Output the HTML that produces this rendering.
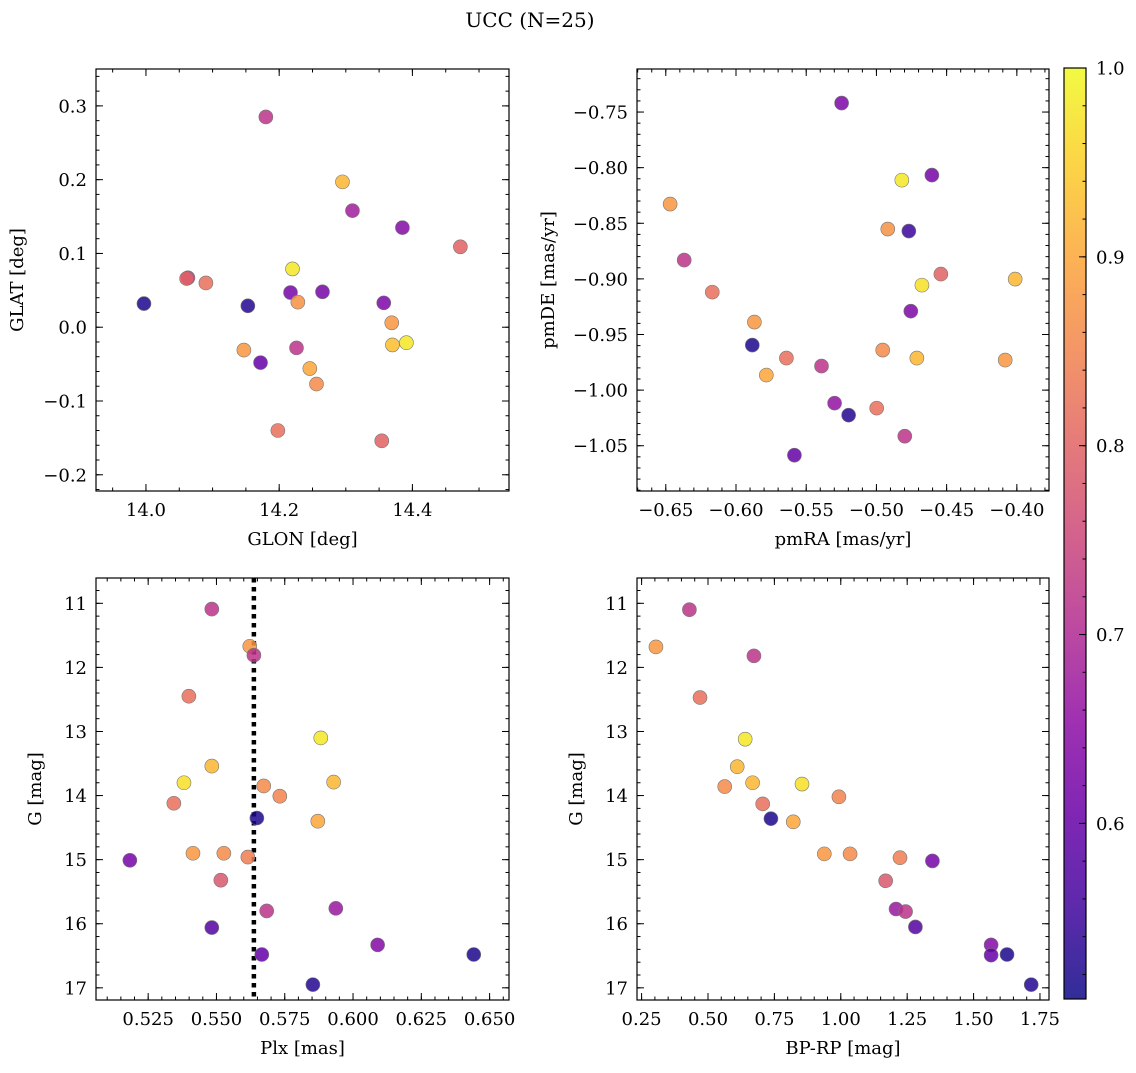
<!DOCTYPE html>
<html><head><meta charset="utf-8"><style>
html,body{margin:0;padding:0;background:#fff;}
svg text{font-family:"DejaVu Serif","Liberation Serif",serif;fill:#000;}
</style></head><body>
<svg id="fig" width="1136" height="1068" xmlns="http://www.w3.org/2000/svg">
<text x="530" y="27" font-size="20" text-anchor="middle">UCC (N=25)</text>
</svg>
<script>
// Panel 1 data
const glon = [13.997,14.063,14.061,14.090,14.153,14.180,14.220,14.217,14.228,14.265,14.310,14.295,14.385,14.472,14.357,14.369,14.370,14.391,14.147,14.172,14.226,14.246,14.256,14.198,14.354];
const glat = [0.032,0.067,0.066,0.060,0.029,0.285,0.079,0.047,0.034,0.048,0.158,0.197,0.135,0.109,0.033,0.006,-0.024,-0.021,-0.031,-0.048,-0.028,-0.056,-0.077,-0.140,-0.154];
const prob1 = [0.52,0.72,0.80,0.82,0.53,0.72,0.98,0.62,0.87,0.62,0.68,0.92,0.64,0.80,0.63,0.88,0.93,0.98,0.88,0.60,0.72,0.90,0.86,0.82,0.80];
// Panel 2 data
const pmra = [-0.5248,-0.6469,-0.6369,-0.6169,-0.5869,-0.5884,-0.5641,-0.5784,-0.5391,-0.5298,-0.5198,-0.5584,-0.4998,-0.4955,-0.4919,-0.4819,-0.4605,-0.4769,-0.4541,-0.4676,-0.4755,-0.4712,-0.4798,-0.4083,-0.4012];
const pmde = [-0.7419,-0.8327,-0.8831,-0.9119,-0.9388,-0.9595,-0.9712,-0.9865,-0.9784,-1.0117,-1.0225,-1.0585,-1.0162,-0.9640,-0.8552,-0.8112,-0.8067,-0.8570,-0.8957,-0.9056,-0.9290,-0.9712,-1.0414,-0.9730,-0.9002];
const prob2 = [0.63,0.88,0.72,0.82,0.88,0.52,0.82,0.90,0.72,0.66,0.53,0.60,0.82,0.86,0.87,0.98,0.62,0.55,0.80,0.97,0.63,0.92,0.72,0.88,0.92];
// Panel 3 data
const plx = [0.5483,0.5622,0.5637,0.5399,0.5882,0.5483,0.5381,0.5929,0.5344,0.5673,0.5732,0.5871,0.5648,0.5414,0.5527,0.5615,0.5183,0.5516,0.5684,0.5937,0.5483,0.5666,0.6090,0.6442,0.5853];
const gmag3 = [11.09,11.67,11.81,12.45,13.10,13.54,13.80,13.79,14.12,13.85,14.01,14.40,14.35,14.90,14.90,14.96,15.01,15.32,15.80,15.76,16.06,16.48,16.33,16.48,16.95];
const prob3 = [0.72,0.88,0.72,0.82,0.98,0.92,0.97,0.92,0.82,0.86,0.85,0.90,0.52,0.88,0.86,0.84,0.62,0.78,0.72,0.67,0.58,0.60,0.64,0.52,0.53];
const plxLine = [0.5637];
// Panel 4 data
const bprp = [0.430,0.304,0.673,0.470,0.640,0.610,0.563,0.668,0.854,0.993,0.706,0.737,0.821,0.938,1.035,1.223,1.345,1.169,1.208,1.244,1.281,1.566,1.566,1.626,1.717];
const gmag4 = [11.10,11.68,11.82,12.47,13.12,13.55,13.86,13.80,13.82,14.02,14.13,14.36,14.41,14.91,14.91,14.97,15.02,15.33,15.77,15.81,16.05,16.33,16.49,16.48,16.95];
const prob4 = [0.72,0.88,0.72,0.82,0.98,0.92,0.86,0.92,0.97,0.85,0.82,0.52,0.90,0.88,0.86,0.84,0.62,0.78,0.67,0.72,0.58,0.64,0.60,0.52,0.53];
// Colorbar
const cbTicks = [0.6,0.7,0.8,0.9,1.0];
const vmin = 0.507, vmax = 1.0;

const NS = "http://www.w3.org/2000/svg";
const svg = document.getElementById('fig');
function mk(tag, attrs, parent){ const e=document.createElementNS(NS,tag); for(const k in attrs) e.setAttribute(k,attrs[k]); (parent||svg).appendChild(e); return e; }
const plasma = ['#0d0887','#41049d','#6a00a8','#8f0da4','#b12a90','#cc4778','#e16462','#f2844b','#fca636','#fcce25','#f0f921'];
function hex(h){return [1,3,5].map(i=>parseInt(h.substr(i,2),16));}
function cmap(v){ let t=(v-vmin)/(vmax-vmin); t=Math.max(0,Math.min(1,t)); const p=t*10, i=Math.min(9,Math.floor(p)), f=p-i; const a=hex(plasma[i]), b=hex(plasma[i+1]); return 'rgb('+a.map((c,j)=>Math.round(c+(b[j]-c)*f)).join(',')+')'; }

function fmt(v,d){ const r=Math.abs(v)<1e-9?0:v; return (r<0?'\u2212':'')+Math.abs(r).toFixed(d); }

function panel(o){
  const g = mk('g',{});
  
  
  const W=o.x1-o.x0, H=o.y1-o.y0;
  const sx=v=>o.x0+(v-o.xmin)/(o.xmax-o.xmin)*W;
  const sy=v=> o.inv ? o.y0+(v-o.ymin)/(o.ymax-o.ymin)*H : o.y1-(v-o.ymin)/(o.ymax-o.ymin)*H;
  const tg = mk('g',{stroke:'#000','stroke-width':1},g);
  function ticksX(step,len,labels,dec){
    const s=Math.ceil(o.xmin/step-1e-6);
    for(let k=s; k*step<=o.xmax+1e-9; k++){ const v=k*step, x=sx(v);
      mk('line',{x1:x,x2:x,y1:o.y1,y2:o.y1-len},tg); mk('line',{x1:x,x2:x,y1:o.y0,y2:o.y0+len},tg);
      if(labels){ const t=mk('text',{x:x,y:o.y1+25,'font-size':18,'text-anchor':'middle'},g); t.textContent=fmt(v,dec);
          } }
  }
  function ticksY(step,len,labels,dec){
    const lo=Math.min(o.ymin,o.ymax), hi=Math.max(o.ymin,o.ymax);
    const s=Math.ceil(lo/step-1e-6);
    for(let k=s; k*step<=hi+1e-9; k++){ const v=k*step, y=sy(v);
      mk('line',{x1:o.x0,x2:o.x0+len,y1:y,y2:y},tg); mk('line',{x1:o.x1,x2:o.x1-len,y1:y,y2:y},tg);
      if(labels){ const t=mk('text',{x:o.x0-9,y:y+6.5,'font-size':18,'text-anchor':'end'},g); t.textContent=fmt(v,dec);
          } }
  }
  ticksX(o.xminor,3.5,false); ticksX(o.xmajor,7,true,o.xdec);
  ticksY(o.yminor,3.5,false); ticksY(o.ymajor,7,true,o.ydec);
  if(o.vline!==undefined){ const x=sx(o.vline);
    const l=mk('line',{x1:x,x2:x,y1:o.y0,y2:o.y1,stroke:'#000','stroke-width':4.5,'stroke-dasharray':'4.5 4.5'},g);
      }
  for(let i=0;i<o.xs.length;i++){
    const c=mk('circle',{cx:sx(o.xs[i]),cy:sy(o.ys[i]),r:7,fill:cmap(o.cs[i]),'fill-opacity':0.85,stroke:'#777','stroke-width':0.6},g);
    
    
  }
  mk('rect',{x:o.x0,y:o.y0,width:W,height:H,fill:'none',stroke:'#000','stroke-width':1.2},g);
  const xl=mk('text',{x:(o.x0+o.x1)/2,y:o.y1+54,'font-size':18,'text-anchor':'middle'},g); xl.textContent=o.xlabel;
   
  const yx=o.x0-o.ylabOff, ym=(o.y0+o.y1)/2;
  const yl=mk('text',{x:yx,y:ym,'font-size':18,'text-anchor':'middle',transform:'rotate(-90 '+yx+' '+ym+')'},g); yl.textContent=o.ylabel;
   
}

panel({name:'glon-glat-panel',x0:96,x1:509,y0:69,y1:491,xmin:13.925,xmax:14.545,ymin:-0.222,ymax:0.350,xmajor:0.2,xminor:0.05,ymajor:0.1,yminor:0.02,xdec:1,ydec:1,xs:glon,ys:glat,cs:prob1,xlabel:'GLON [deg]',ylabel:'GLAT [deg]',ylabOff:73});
panel({name:'pm-panel',x0:637,x1:1049,y0:69,y1:491,xmin:-0.6705,xmax:-0.3771,ymin:-1.0907,ymax:-0.7113,xmajor:0.05,xminor:0.01,ymajor:0.05,yminor:0.01,xdec:2,ydec:2,xs:pmra,ys:pmde,cs:prob2,xlabel:'pmRA [mas/yr]',ylabel:'pmDE [mas/yr]',ylabOff:83});
panel({name:'plx-g-panel',x0:96,x1:509,y0:578,y1:1000,xmin:0.5059,xmax:0.6571,ymin:10.605,ymax:17.19,inv:true,xmajor:0.025,xminor:0.005,ymajor:1,yminor:0.2,xdec:3,ydec:0,xs:plx,ys:gmag3,cs:prob3,vline:plxLine[0],xlabel:'Plx [mas]',ylabel:'G [mag]',ylabOff:55});
panel({name:'cmd-panel',x0:637,x1:1049,y0:578,y1:1000,xmin:0.2327,xmax:1.784,ymin:10.605,ymax:17.19,inv:true,xmajor:0.25,xminor:0.05,ymajor:1,yminor:0.2,xdec:2,ydec:0,xs:bprp,ys:gmag4,cs:prob4,xlabel:'BP-RP [mag]',ylabel:'G [mag]',ylabOff:55});

(function(){
  const x0=1064,x1=1086,y0=68,y1=999;
  const g=mk('g',{});
  
  
  const grad=mk('linearGradient',{id:'cbg',x1:0,y1:1,x2:0,y2:0},mk('defs',{},g));
  for(let i=0;i<=20;i++){ const v=vmin+(vmax-vmin)*i/20; mk('stop',{offset:(i*5)+'%','stop-color':cmap(v),'stop-opacity':0.85},grad); }
  mk('rect',{x:x0,y:y0,width:x1-x0,height:y1-y0,fill:'url(#cbg)'},g);
  const sy=v=>y1-(v-vmin)/(vmax-vmin)*(y1-y0);
  for(let k=Math.ceil(vmin/0.02);k*0.02<=vmax+1e-9;k++){ const y=sy(k*0.02); mk('line',{x1:x1-3.5,x2:x1,y1:y,y2:y,stroke:'#000'},g); }
  cbTicks.forEach(v=>{ const y=sy(v); mk('line',{x1:x1-7,x2:x1,y1:y,y2:y,stroke:'#000'},g);
    const t=mk('text',{x:x1+10,y:y+6.5,'font-size':18},g); t.textContent=v.toFixed(1);
      });
  mk('rect',{x:x0,y:y0,width:x1-x0,height:y1-y0,fill:'none',stroke:'#000','stroke-width':1.2},g);
})();
</script>
</body></html>
